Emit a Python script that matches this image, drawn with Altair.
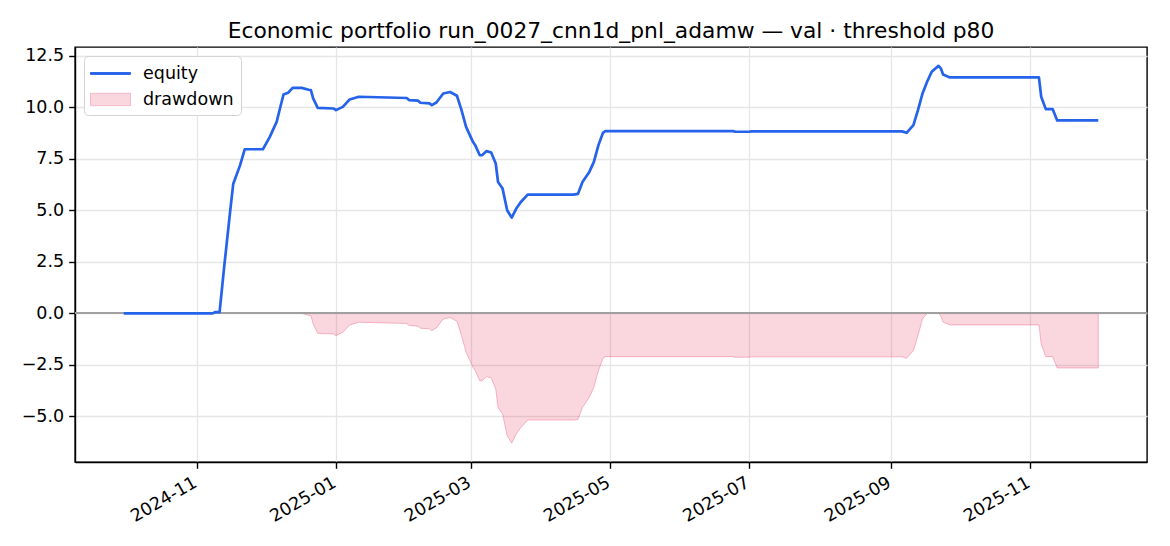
import altair as alt
import pandas as pd

# ---- data ----
dates = [
    "2024-09-30", "2024-11-08", "2024-11-09", "2024-11-11", "2024-11-13",
    "2024-11-16", "2024-11-17", "2024-11-20", "2024-11-22", "2024-11-30",
    "2024-12-03", "2024-12-06", "2024-12-09", "2024-12-11", "2024-12-13",
    "2024-12-17", "2024-12-20", "2024-12-21", "2024-12-22", "2024-12-24",
    "2024-12-31", "2025-01-01", "2025-01-04", "2025-01-07", "2025-01-11",
    "2025-02-01", "2025-02-02", "2025-02-06", "2025-02-07", "2025-02-11",
    "2025-02-12", "2025-02-14", "2025-02-17", "2025-02-20", "2025-02-23",
    "2025-02-25", "2025-02-27", "2025-03-02", "2025-03-03", "2025-03-05",
    "2025-03-06", "2025-03-08", "2025-03-10", "2025-03-12", "2025-03-13",
    "2025-03-15", "2025-03-17", "2025-03-19", "2025-03-21", "2025-03-23",
    "2025-03-26", "2025-04-15", "2025-04-17", "2025-04-19", "2025-04-22",
    "2025-04-24", "2025-04-26", "2025-04-28", "2025-04-29", "2025-06-24",
    "2025-06-25", "2025-07-01", "2025-07-02", "2025-09-06", "2025-09-08",
    "2025-09-11", "2025-09-13", "2025-09-15", "2025-09-17", "2025-09-19",
    "2025-09-22", "2025-09-23", "2025-09-24", "2025-09-25", "2025-09-27",
    "2025-11-05", "2025-11-06", "2025-11-08", "2025-11-11", "2025-11-13",
    "2025-12-01",
]
equity = [
    0.00, 0.00, 0.06, 0.06, 2.25,
    5.33, 6.30, 7.20, 7.97, 7.97,
    8.57, 9.30, 10.63, 10.71, 10.95,
    10.95, 10.86, 10.84, 10.44, 9.98,
    9.95, 9.87, 10.03, 10.39, 10.52,
    10.46, 10.36, 10.33, 10.23, 10.20,
    10.11, 10.24, 10.68, 10.75, 10.57,
    9.87, 9.06, 8.33, 8.17, 7.68,
    7.68, 7.88, 7.81, 7.28, 6.38,
    6.06, 5.01, 4.65, 5.09, 5.41,
    5.77, 5.77, 5.80, 6.38, 6.87,
    7.36, 8.17, 8.77, 8.85, 8.85,
    8.82, 8.82, 8.84, 8.84, 8.77,
    9.14, 9.87, 10.68, 11.25, 11.73,
    12.02, 11.90, 11.60, 11.55, 11.46,
    11.46, 10.52, 9.92, 9.92, 9.37,
    9.37,
]
series_names = ["equity", "drawdown"]
x_tick_dates = ["2024-11-01", "2025-01-01", "2025-03-01", "2025-05-01",
                "2025-07-01", "2025-09-01", "2025-11-01"]
y_ticks = [-5.0, -2.5, 0.0, 2.5, 5.0, 7.5, 10.0, 12.5]
title_text = "Economic portfolio run_0027_cnn1d_pnl_adamw \u2014 val \u00b7 threshold p80"

# ---- table ----
df = pd.DataFrame({"date": pd.to_datetime(dates), "equity": equity})
df["drawdown"] = df["equity"] - df["equity"].cummax()
df["zero"] = 0.0
df["date"] = df["date"].dt.strftime("%Y-%m-%dT%H:%M:%S")

# matplotlib-like 5% margins
d0, d1 = pd.to_datetime(dates[0]), pd.to_datetime(dates[-1])
pad = (d1 - d0) * 0.05
xs, xe = d0 - pad, d1 + pad


def dt(t):
    return alt.DateTime(year=t.year, month=t.month, date=t.day,
                        hours=t.hour, minutes=t.minute)


ymin = min(df["drawdown"].min(), df["equity"].min())
ymax = max(df["drawdown"].max(), df["equity"].max())
ypad = (ymax - ymin) * 0.05

xscale = alt.Scale(domain=[dt(xs), dt(xe)])
yscale = alt.Scale(domain=[ymin - ypad, ymax + ypad], nice=False, zero=False)

x_enc = alt.X("date:T", scale=xscale, title=None,
              axis=alt.Axis(values=[dt(pd.to_datetime(v)) for v in x_tick_dates],
                            format="%Y-%m", labelAngle=330, labelAlign="right",
                            labelBaseline="top", labelOffset=-6, labelPadding=5))
y_axis = alt.Axis(values=y_ticks, format=".1f", labelPadding=5)

base = alt.Chart(df)

area = base.mark_area(color="#e11d48", fillOpacity=0.18, stroke="#e11d48",
                      strokeOpacity=0.28, strokeWidth=1).encode(
    x=x_enc,
    y=alt.Y("drawdown:Q", scale=yscale, title=None, axis=y_axis),
    y2="zero:Q",
)

zero_rule = alt.Chart(df).mark_rule(color="#a0a0a0", strokeWidth=1.2, opacity=0.8).encode(
    y=alt.YDatum(0)
)

line = base.mark_line(color="#2563eb", strokeWidth=2.7, strokeJoin="round").encode(
    x=x_enc,
    y=alt.Y("equity:Q", scale=yscale),
)

line_path = "M-2,-0.09H2V0.09H-2Z"
patch_path = "M-2,-0.62H2V0.62H-2Z"
legend_df = pd.DataFrame({"series": series_names})
legend_layer = alt.Chart(legend_df).mark_point(filled=True, opacity=1, strokeWidth=1).encode(
    shape=alt.Shape("series:N", title=None,
                    scale=alt.Scale(domain=series_names, range=[line_path, patch_path])),
    fill=alt.Fill("series:N", title=None,
                  scale=alt.Scale(domain=series_names, range=["#2563eb", "#fad6de"])),
    stroke=alt.Stroke("series:N", title=None,
                      scale=alt.Scale(domain=series_names, range=["#2563eb", "#f5b9c6"])),
).transform_filter("false")

chart = alt.layer(area, zero_rule, line, legend_layer).properties(
    width=1072,
    height=415,
    autosize=alt.AutoSizeParams(type="none"),
    padding={"left": 67, "top": 39, "right": 15, "bottom": 76},
    title=alt.Title(title_text, font="DejaVu Sans", fontSize=21.8, fontWeight="normal",
                    color="black", anchor="middle", baseline="alphabetic", offset=11, dy=24),
).configure_view(
    stroke="black", strokeWidth=1.4,
).configure_axis(
    domainColor="black", domainWidth=1.4,
    tickColor="black", tickWidth=1.4, tickSize=6.3,
    labelFont="DejaVu Sans", labelFontSize=17.5, labelColor="black",
    gridColor="#e6e6e6", gridWidth=1.3,
).configure_legend(
    orient="top-left", offset=9, padding=7,
    strokeColor="#d4d4d4", cornerRadius=4, fillColor="white",
    labelFont="DejaVu Sans", labelFontSize=17.5, labelColor="black",
    symbolSize=400, symbolOffset=9, labelOffset=22, rowPadding=7,
    symbolStrokeWidth=1, labelLimit=400,
)

chart.save("out.html", embed_options={"renderer": "svg", "actions": False})
